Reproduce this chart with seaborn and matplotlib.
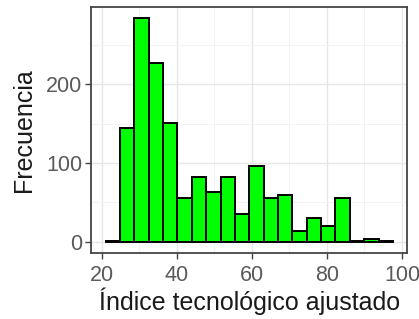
import numpy as np
import pandas as pd
import seaborn as sns
import matplotlib.pyplot as plt
from matplotlib.ticker import MultipleLocator

# histogram: 20 bins from about 21 to 97.6
bin_start = 21.0
bin_width = 3.83
frecuencias = [1, 145, 284, 227, 151, 55, 82, 63, 82, 35,
               96, 55, 60, 14, 30, 20, 56, 1, 4, 1]

edges = bin_start + bin_width * np.arange(len(frecuencias) + 1)
centros = (edges[:-1] + edges[1:]) / 2
df = pd.DataFrame({"indice": centros, "n": frecuencias})

sns.set_style("whitegrid")
plt.rcParams['font.family'] = ['Liberation Sans', 'DejaVu Sans']

fig, ax = plt.subplots(figsize=(4.19, 3.19), dpi=100)
sns.histplot(data=df, x="indice", weights="n", binwidth=bin_width,
             binrange=(edges[0], edges[-1]), color="#00FF00",
             edgecolor="black", linewidth=1.4, alpha=1, ax=ax)

ax.set_xlim(17.2, 101.3)
ax.set_ylim(-14.2, 298)
ax.xaxis.set_major_locator(MultipleLocator(20))
ax.xaxis.set_minor_locator(MultipleLocator(10))
ax.yaxis.set_major_locator(MultipleLocator(100))
ax.yaxis.set_minor_locator(MultipleLocator(50))
ax.grid(which="major", color="#E6E6E6", linewidth=1.0)
ax.grid(which="minor", color="#F2F2F2", linewidth=0.7)
ax.set_axisbelow(True)

for s in ax.spines.values():
    s.set_color("#444444")
    s.set_linewidth(1.3)

ax.tick_params(axis="both", which="major", length=4.5, width=1, color="#444444",
               labelsize=15.5, labelcolor="#5A5A5A", pad=2, left=True, bottom=True)
ax.tick_params(axis="x", pad=4)
ax.tick_params(which="minor", length=0)

ax.set_xlabel("Índice tecnológico ajustado", fontsize=18, color="#1A1A1A", labelpad=1)
ax.set_ylabel("Frecuencia", fontsize=18, color="#1A1A1A", labelpad=7)

fig.subplots_adjust(left=0.218, right=0.971, top=0.978, bottom=0.207)
fig.savefig("out.png", dpi=100)
